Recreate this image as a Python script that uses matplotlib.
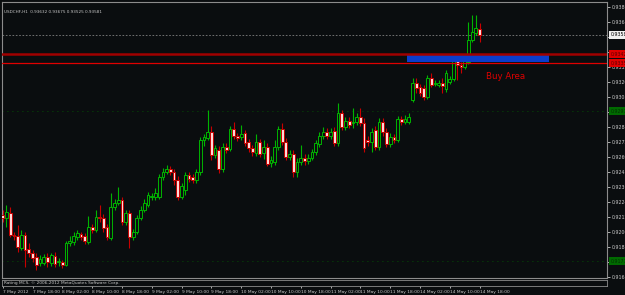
import matplotlib
matplotlib.use("Agg")
import matplotlib.pyplot as plt
from matplotlib.transforms import blended_transform_factory
from matplotlib.patches import Rectangle

# ---------------- data ----------------
opens = [0.92140, 0.92116, 0.92156, 0.91980, 0.91972, 0.91876, 0.91980, 0.91868, 0.91836, 0.91804,
 0.91756, 0.91756, 0.91804, 0.91756, 0.91812, 0.91764, 0.91764, 0.91740, 0.91916, 0.91924,
 0.91964, 0.91988, 0.91972, 0.91924, 0.92044, 0.92020, 0.92124, 0.92116, 0.92044, 0.91956,
 0.92204, 0.92236, 0.92260, 0.92084, 0.92156, 0.91964, 0.92004, 0.92116, 0.92180, 0.92220,
 0.92284, 0.92284, 0.92284, 0.92444, 0.92484, 0.92508, 0.92484, 0.92420, 0.92284, 0.92340,
 0.92460, 0.92444, 0.92420, 0.92484, 0.92740, 0.92756, 0.92804, 0.92620, 0.92660, 0.92508,
 0.92684, 0.92668, 0.92828, 0.92772, 0.92764, 0.92796, 0.92724, 0.92676, 0.92636, 0.92724,
 0.92636, 0.92684, 0.92556, 0.92564, 0.92684, 0.92828, 0.92724, 0.92604, 0.92628, 0.92484,
 0.92564, 0.92596, 0.92572, 0.92596, 0.92644, 0.92708, 0.92772, 0.92804, 0.92772, 0.92812,
 0.92716, 0.92956, 0.92844, 0.92892, 0.92876, 0.92884, 0.92924, 0.92876, 0.92740, 0.92724,
 0.92820, 0.92684, 0.92884, 0.92804, 0.92708, 0.92764, 0.92740, 0.92908, 0.92884, 0.92884,
 0.93060, 0.93196, 0.93164, 0.93156, 0.93084, 0.93236, 0.93188, 0.93180, 0.93196, 0.93148,
 0.93204, 0.93228, 0.93380, 0.93340, 0.93324, 0.93364, 0.93540, 0.93596, 0.93632]

highs = [0.92180, 0.92220, 0.92204, 0.92004, 0.92060, 0.92020, 0.92004, 0.91916, 0.91860, 0.91836,
 0.91820, 0.91828, 0.91836, 0.91836, 0.91844, 0.91796, 0.91780, 0.91932, 0.91972, 0.92004,
 0.92020, 0.92004, 0.91996, 0.92132, 0.92068, 0.92180, 0.92220, 0.92148, 0.92068, 0.92316,
 0.92268, 0.92364, 0.92284, 0.92180, 0.92180, 0.92028, 0.92140, 0.92212, 0.92268, 0.92324,
 0.92316, 0.92356, 0.92468, 0.92516, 0.92540, 0.92532, 0.92508, 0.92452, 0.92396, 0.92484,
 0.92484, 0.92468, 0.92508, 0.92764, 0.92788, 0.92980, 0.92852, 0.92700, 0.92692, 0.92716,
 0.92716, 0.92852, 0.92884, 0.92796, 0.92860, 0.92820, 0.92748, 0.92700, 0.92788, 0.92748,
 0.92740, 0.92716, 0.92612, 0.92740, 0.92852, 0.92876, 0.92756, 0.92660, 0.92660, 0.92596,
 0.92700, 0.92628, 0.92628, 0.92668, 0.92740, 0.92804, 0.92844, 0.92836, 0.92836, 0.92844,
 0.93036, 0.92980, 0.92924, 0.92924, 0.92996, 0.92956, 0.92996, 0.92916, 0.92772, 0.92836,
 0.92852, 0.92916, 0.92916, 0.92836, 0.92796, 0.92788, 0.92932, 0.92932, 0.92940, 0.92956,
 0.93236, 0.93236, 0.93188, 0.93180, 0.93260, 0.93276, 0.93220, 0.93220, 0.93236, 0.93300,
 0.93252, 0.93420, 0.93396, 0.93364, 0.93396, 0.93684, 0.93740, 0.93740, 0.93675]

lows = [0.92084, 0.92044, 0.91964, 0.91940, 0.91844, 0.91860, 0.91724, 0.91804, 0.91764, 0.91700,
 0.91732, 0.91740, 0.91724, 0.91732, 0.91724, 0.91732, 0.91716, 0.91732, 0.91892, 0.91900,
 0.91940, 0.91940, 0.91908, 0.91908, 0.91996, 0.92004, 0.92084, 0.92004, 0.91940, 0.91940,
 0.92180, 0.92220, 0.92060, 0.92060, 0.91876, 0.91940, 0.91988, 0.92100, 0.92164, 0.92204,
 0.92260, 0.92260, 0.92268, 0.92420, 0.92468, 0.92460, 0.92380, 0.92260, 0.92268, 0.92300,
 0.92404, 0.92396, 0.92396, 0.92460, 0.92692, 0.92740, 0.92580, 0.92596, 0.92476, 0.92484,
 0.92636, 0.92652, 0.92748, 0.92732, 0.92740, 0.92692, 0.92644, 0.92612, 0.92612, 0.92604,
 0.92588, 0.92532, 0.92524, 0.92540, 0.92660, 0.92700, 0.92580, 0.92580, 0.92444, 0.92444,
 0.92540, 0.92540, 0.92548, 0.92580, 0.92620, 0.92684, 0.92748, 0.92748, 0.92748, 0.92692,
 0.92692, 0.92820, 0.92820, 0.92836, 0.92836, 0.92860, 0.92852, 0.92644, 0.92692, 0.92644,
 0.92660, 0.92660, 0.92772, 0.92684, 0.92684, 0.92716, 0.92724, 0.92860, 0.92868, 0.92868,
 0.93044, 0.93116, 0.93092, 0.93060, 0.93068, 0.93164, 0.93172, 0.93164, 0.93116, 0.93124,
 0.93188, 0.93212, 0.93220, 0.93276, 0.93308, 0.93348, 0.93524, 0.93580, 0.93525]

closes = [0.92116, 0.92164, 0.91980, 0.91972, 0.91884, 0.91980, 0.91860, 0.91836, 0.91796, 0.91740,
 0.91788, 0.91804, 0.91764, 0.91820, 0.91748, 0.91772, 0.91740, 0.91916, 0.91932, 0.91972,
 0.91996, 0.91964, 0.91932, 0.92044, 0.92020, 0.92124, 0.92116, 0.92036, 0.91964, 0.92204,
 0.92236, 0.92260, 0.92084, 0.92156, 0.91964, 0.92004, 0.92116, 0.92180, 0.92236, 0.92300,
 0.92292, 0.92316, 0.92444, 0.92484, 0.92508, 0.92484, 0.92420, 0.92284, 0.92372, 0.92460,
 0.92428, 0.92420, 0.92484, 0.92740, 0.92764, 0.92804, 0.92620, 0.92676, 0.92508, 0.92684,
 0.92660, 0.92828, 0.92772, 0.92756, 0.92788, 0.92716, 0.92676, 0.92644, 0.92724, 0.92628,
 0.92684, 0.92548, 0.92580, 0.92684, 0.92828, 0.92724, 0.92604, 0.92628, 0.92484, 0.92564,
 0.92596, 0.92572, 0.92596, 0.92644, 0.92716, 0.92772, 0.92804, 0.92772, 0.92804, 0.92716,
 0.92956, 0.92844, 0.92892, 0.92860, 0.92884, 0.92924, 0.92876, 0.92676, 0.92724, 0.92804,
 0.92684, 0.92884, 0.92804, 0.92708, 0.92764, 0.92740, 0.92908, 0.92884, 0.92908, 0.92924,
 0.93196, 0.93156, 0.93116, 0.93084, 0.93236, 0.93180, 0.93196, 0.93196, 0.93172, 0.93276,
 0.93228, 0.93380, 0.93340, 0.93324, 0.93380, 0.93540, 0.93604, 0.93636, 0.93581]

time_labels = ["7 May 2012", "7 May 18:00", "8 May 02:00", "8 May 10:00", "8 May 18:00",
               "9 May 02:00", "9 May 10:00", "9 May 18:00", "10 May 02:00", "10 May 10:00",
               "10 May 18:00", "11 May 02:00", "11 May 10:00", "11 May 18:00", "14 May 02:00",
               "14 May 10:00", "14 May 18:00"]
time_label_bars = [0, 8, 16, 24, 32, 40, 48, 56, 64, 72, 80, 88, 96, 104, 112, 120, 128]

price_ticks = [0.93805, 0.93685, 0.93565, 0.93445, 0.93325, 0.93205, 0.93085, 0.92965, 0.92845,
               0.92725, 0.92605, 0.92485, 0.92365, 0.92245, 0.92125, 0.92005, 0.91885, 0.91765,
               0.91645]
hidden_tick_labels = [0.93565, 0.93445, 0.92965, 0.91765]   # covered by price boxes

resistance_line = 0.93428
support_line = 0.93356
buy_zone = (0.93362, 0.93426)
buy_zone_bars = (108.5, 146.5)
green_levels = [0.92972, 0.91772]
symbol = "USDCHF,H1"

# ---------------- style ----------------
BG = "#0a0d0f"
GRID = "#8c8c8c"
BULL = "#00b400"
BEAR_EDGE = "#c80000"
BEAR_FACE = "#ffd8d8"

W, H = 625, 295
fig = plt.figure(figsize=(W / 100, H / 100), dpi=100, facecolor=BG)

def px_axes(x0, y0, x1, y1):
    return fig.add_axes([x0 / W, 1 - y1 / H, (x1 - x0) / W, (y1 - y0) / H])

ax = px_axes(2, 2, 607, 278)
ax.set_facecolor(BG)
n = len(opens)
xs = list(range(n))

# wicks
for i in xs:
    col = BULL if closes[i] >= opens[i] else BEAR_EDGE
    ax.vlines(i, lows[i], highs[i], color=col, lw=0.8, zorder=2)
# bodies
bw = 0.74
for i in xs:
    o, c = opens[i], closes[i]
    bottom = min(o, c)
    h = max(abs(c - o), 0.000015)
    if c >= o:
        ax.add_patch(Rectangle((i - bw / 2, bottom), bw, h, facecolor=BG,
                               edgecolor=BULL, lw=0.7, zorder=3))
    else:
        ax.add_patch(Rectangle((i - bw / 2, bottom), bw, h, facecolor=BEAR_FACE,
                               edgecolor=BEAR_EDGE, lw=0.7, zorder=3))

# levels
ax.axhline(closes[-1], color="#808080", lw=0.6, ls=(0, (2, 2)), zorder=1)
for g in green_levels:
    ax.axhline(g, color="#006a00", lw=0.6, ls=(0, (1, 5)), zorder=1)
ax.add_patch(Rectangle((buy_zone_bars[0], buy_zone[0]), buy_zone_bars[1] - buy_zone_bars[0],
                       buy_zone[1] - buy_zone[0], facecolor="#0b3dcc", edgecolor="none", zorder=4))
ax.axhline(resistance_line, color="#a00000", lw=1.8, zorder=5)
ax.axhline(support_line, color="#e00000", lw=0.9, zorder=5)
ax.text(129.6, 0.93245, "Buy Area", color="#e00000", fontsize=6.2, ha="left", va="center", zorder=6)

ax.set_xlim(-0.2, 162.2)
ax.set_ylim(0.91636, 0.93844)

for s in ax.spines.values():
    s.set_color(GRID)
    s.set_linewidth(0.8)

ax.yaxis.tick_right()
ax.set_yticks(price_ticks)
ax.set_yticklabels(["" if v in hidden_tick_labels else f"{v:.5f}" for v in price_ticks])
ax.tick_params(axis="y", colors="#c8c8c8", labelsize=3.4, length=2, width=0.6, pad=1.5)
ax.tick_params(axis="x", bottom=False, labelbottom=False)

# axis price boxes
tr = blended_transform_factory(ax.transAxes, ax.transData)
def price_box(val, fc, tc):
    ax.text(1.006, val, f"{val:.5f}", transform=tr, fontsize=3.4, color=tc, ha="left",
            va="center", clip_on=False, zorder=10,
            bbox=dict(boxstyle="square,pad=0.25", fc=fc, ec="none"))
price_box(closes[-1], "#f0f0f0", "#000000")
price_box(resistance_line, "#e00000", "#5a0000")
price_box(support_line, "#e00000", "#5a0000")
for g in green_levels:
    price_box(g, "#006a00", "#003000")

ax.text(0.004, 0.965, f"{symbol}  {opens[-1]:.5f} {highs[-1]:.5f} {lows[-1]:.5f} {closes[-1]:.5f}",
        transform=ax.transAxes, fontsize=3.0, color="#c8c8c8", ha="left", va="center")

# sub window
sub = px_axes(2, 280, 607, 286)
sub.set_facecolor(BG)
sub.set_xlim(ax.get_xlim())
sub.set_ylim(0, 1)
for s in sub.spines.values():
    s.set_color(GRID)
    s.set_linewidth(0.6)
    s.set_linestyle((0, (1, 1)))
sub.set_yticks([])
sub.text(0.004, 0.5, "Rating MCS, \u00a9 2006-2012 MetaQuotes Software Corp.", transform=sub.transAxes,
         fontsize=3.1, color="#c8c8c8", ha="left", va="center")
sub.set_xticks(time_label_bars)
sub.set_xticklabels(time_labels)
for lbl in sub.get_xticklabels():
    lbl.set_horizontalalignment("left")
sub.tick_params(axis="x", colors="#c8c8c8", labelsize=3.2, length=1.5, width=0.6, pad=1.5)

fig.savefig("out.png", dpi=100, facecolor=BG)
